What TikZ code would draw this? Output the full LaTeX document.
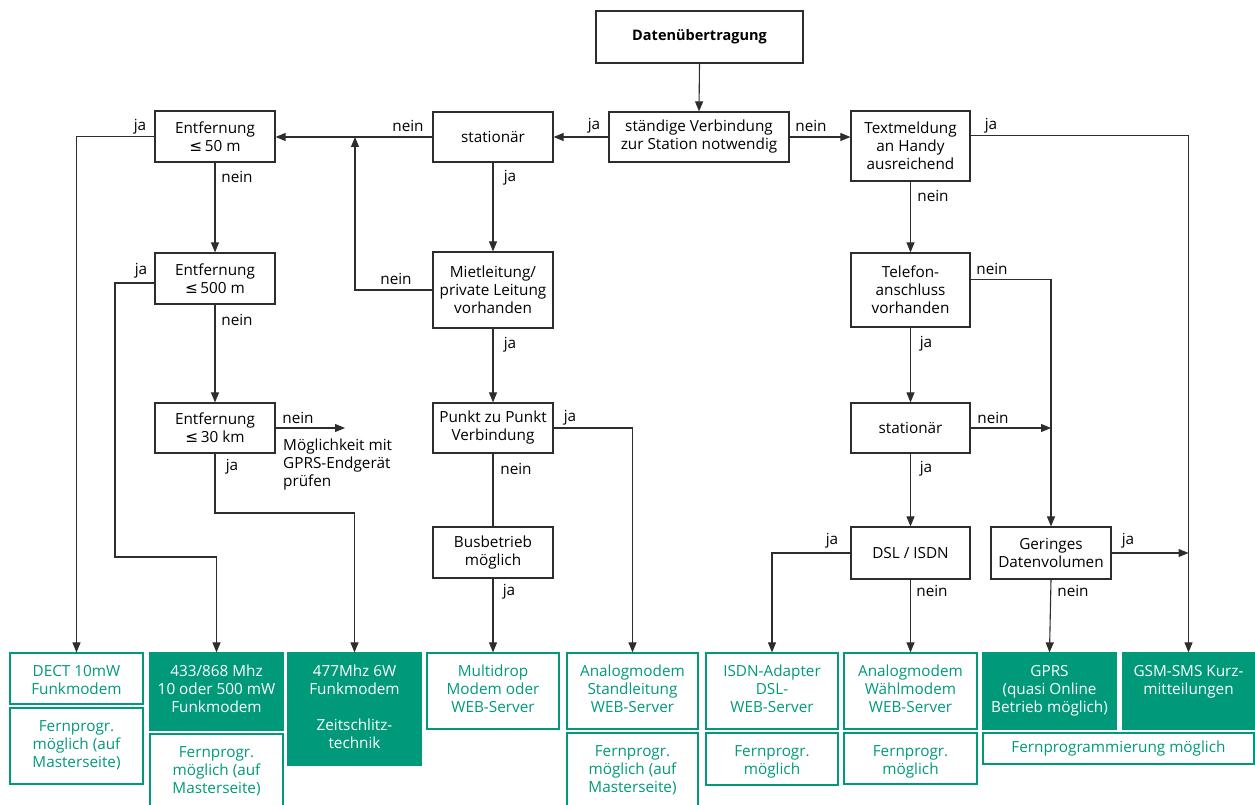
\documentclass[tikz,border=0pt]{standalone}
\usepackage{fontspec}
\setmainfont{Open Sans}
\newfontfamily\symf{DejaVu Sans}
\usetikzlibrary{arrows.meta,calc}
\definecolor{tealg}{RGB}{0,153,122}
\definecolor{lnc}{RGB}{45,45,45}
\newcommand{\btxt}[3]{\parbox[c][#2][t]{#1}{\centering\rule{0pt}{23pt}#3}}
\newcommand{\leqs}{{\symf ≤}}
\begin{document}
\begin{tikzpicture}[x=1pt,y=-1pt,
  font=\fontsize{15.3}{18}\selectfont,
  box/.style={draw=lnc, line width=1.2pt, align=center, inner sep=0pt, text=black},
  gbox/.style={draw=tealg, line width=1.2pt, inner sep=0pt, text=tealg},
  fbox/.style={fill=tealg, draw=tealg, line width=1.2pt, inner sep=0pt, text=white},
  conn/.style={draw=lnc, line width=1.1pt},
  arr/.style={conn, -{Triangle[length=10pt,width=8pt]}},
  lab/.style={inner sep=0pt, text=black}]
\useasboundingbox (0,0) rectangle (1255,805);

% decision boxes
\node[box, minimum width=207pt, minimum height=52pt, font=\fontsize{14.5}{18}\selectfont\bfseries] (dat) at (699.5,37) {Datenübertragung};
\node[box, minimum width=180pt, minimum height=50pt] (staend) at (699,137) {ständige Verbindung\\zur Station notwendig};
\node[box, minimum width=120pt, minimum height=50pt] (stat1) at (493,137) {stationär};
\node[box, minimum width=119pt, minimum height=70pt] (text) at (910.5,146) {Textmeldung\\an Handy\\ausreichend};
\node[box, minimum width=120pt, minimum height=51pt] (e50) at (215,136.5) {Entfernung\\\leqs\,50 m};
\node[box, minimum width=120pt, minimum height=51pt] (e500) at (215,278.5) {Entfernung\\\leqs\,500 m};
\node[box, minimum width=120pt, minimum height=50pt] (e30) at (215,428) {Entfernung\\\leqs\,30 km};
\node[box, minimum width=120pt, minimum height=76pt] (miet) at (493,290) {Mietleitung/\\private Leitung\\vorhanden};
\node[box, minimum width=120pt, minimum height=50pt] (punkt) at (493,428) {Punkt zu Punkt\\Verbindung};
\node[box, minimum width=120pt, minimum height=51pt] (bus) at (493,552.5) {Busbetrieb\\möglich};
\node[box, minimum width=119pt, minimum height=74pt] (tel) at (910.5,290) {Telefon-\\anschluss\\vorhanden};
\node[box, minimum width=119pt, minimum height=50pt] (stat2) at (910.5,428) {stationär};
\node[box, minimum width=119pt, minimum height=52pt] (dsl) at (910.5,553) {DSL / ISDN};
\node[box, minimum width=120pt, minimum height=52pt] (ger) at (1051,553) {Geringes\\Datenvolumen};

% result boxes
\node[gbox] (dect) at (76.5,678.5) {\btxt{133pt}{51pt}{DECT 10mW\\Funkmodem}};
\node[gbox] (fp1) at (76.5,746) {\btxt{133pt}{76pt}{Fernprogr.\\möglich (auf\\Masterseite)}};
\node[fbox] (m433) at (216.5,691.5) {\btxt{133pt}{77pt}{433/868 Mhz\\10 oder 500 mW\\Funkmodem}};
\node[gbox] (fp2) at (216.5,772) {\btxt{133pt}{76pt}{Fernprogr.\\möglich (auf\\Masterseite)}};
\node[fbox] (m477) at (354.5,709) {\btxt{133pt}{112pt}{477Mhz 6W\\Funkmodem\\[18pt]Zeitschlitz-\\technik}};
\node[gbox] (multi) at (493,691) {\btxt{132pt}{76pt}{Multidrop\\Modem oder\\WEB-Server}};
\node[gbox] (astd) at (632.5,691) {\btxt{131pt}{76pt}{Analogmodem\\Standleitung\\WEB-Server}};
\node[gbox] (fp3) at (632.5,771) {\btxt{131pt}{76pt}{Fernprogr.\\möglich (auf\\Masterseite)}};
\node[gbox] (isdn) at (772,691) {\btxt{132pt}{76pt}{ISDN-Adapter\\DSL-\\WEB-Server}};
\node[gbox] (fp4) at (772,759) {\btxt{132pt}{52pt}{Fernprogr.\\möglich}};
\node[gbox] (awahl) at (910.5,691) {\btxt{133pt}{76pt}{Analogmodem\\Wählmodem\\WEB-Server}};
\node[gbox] (fp5) at (910.5,758.5) {\btxt{133pt}{51pt}{Fernprogr.\\möglich}};
\node[fbox] (gprs) at (1049.5,691) {\btxt{133pt}{76pt}{GPRS\\(quasi Online\\Betrieb möglich)}};
\node[fbox] (gsm) at (1188.5,691) {\btxt{131pt}{76pt}{GSM-SMS Kurz-\\mitteilungen}};
\node[gbox, minimum width=271pt, minimum height=31pt] (fpall) at (1118.5,748.5) {Fernprogrammierung möglich};

\node[lab, anchor=north west, align=left] (gptxt) at (283,439) {Möglichkeit mit\\GPRS-Endgerät\\prüfen};

\coordinate (j1) at (355,137);
\coordinate (gp) at (345,428);

% connectors
\draw[arr] (dat.south) -- (staend.north);
\draw[arr] (staend.west) -- (stat1.east);
\draw[arr] (staend.east) -- (staend.east -| text.west);
\draw[arr] (stat1.west) -- (stat1.west -| e50.east);
\draw[arr] (miet.west) -| (j1);
\draw[arr] (e50.west) -| (dect.north);
\draw[arr] (e50.south) -- (e500.north);
\draw[arr] ($(e500.west)+(0,4.5)$) -- (115,283) -- (115,557) -| (m433.north);
\draw[arr] (e500.south) -- (e30.north);
\draw[arr] (e30.east) -- (gp);
\draw[arr] (e30.south) -- (e30.south |- 0,513) -| (m477.north);
\draw[arr] (stat1.south) -- (miet.north);
\draw[arr] (miet.south) -- (punkt.north);
\draw[arr] (punkt.east) -| (astd.north);
\draw[conn] (punkt.south) -- (bus.north);
\draw[arr] (bus.south) -- (multi.north);
\draw[arr] ($(text.north east)+(0,25)$) -| (gsm.north);
\draw[arr] (text.south) -- (tel.north);
\draw[arr] ($(tel.north east)+(0,27)$) -| (ger.north);
\draw[arr] (tel.south) -- (stat2.north);
\draw[arr] (stat2.east) -- (stat2.east -| ger.north);
\draw[arr] (stat2.south) -- (dsl.north);
\draw[arr] (dsl.west) -| (isdn.north);
\draw[arr] (dsl.south) -- (awahl.north);
\draw[arr] (ger.east) -- (ger.east -| gsm.north);
\draw[arr] (ger.south) -- (gprs.north);

% labels
\node[lab] (l1) at (594,126) {ja};
\node[lab] (l2) at (811,126) {nein};
\node[lab] (l3) at (408,126) {nein};
\node[lab] (l4) at (510,178) {ja};
\node[lab] (l5) at (237,177) {nein};
\node[lab] (l6) at (140,127) {ja};
\node[lab] (l7) at (141,271) {ja};
\node[lab] (l8) at (237,320) {nein};
\node[lab] (l9) at (396,279) {nein};
\node[lab] (l10) at (298,418) {nein};
\node[lab] (l11) at (232,467) {ja};
\node[lab] (l12) at (510,345) {ja};
\node[lab] (l13) at (570,418) {ja};
\node[lab] (l14) at (516,469) {nein};
\node[lab] (l15) at (509,592) {ja};
\node[lab] (l16) at (991,126) {ja};
\node[lab] (l17) at (933,196) {nein};
\node[lab] (l18) at (992,269) {nein};
\node[lab] (l19) at (926,344) {ja};
\node[lab] (l20) at (993,418) {nein};
\node[lab] (l21) at (926,469) {ja};
\node[lab] (l22) at (832,541) {ja};
\node[lab] (l23) at (932,591) {nein};
\node[lab] (l24) at (1128,541) {ja};
\node[lab] (l25) at (1073,591) {nein};
\end{tikzpicture}
\end{document}
